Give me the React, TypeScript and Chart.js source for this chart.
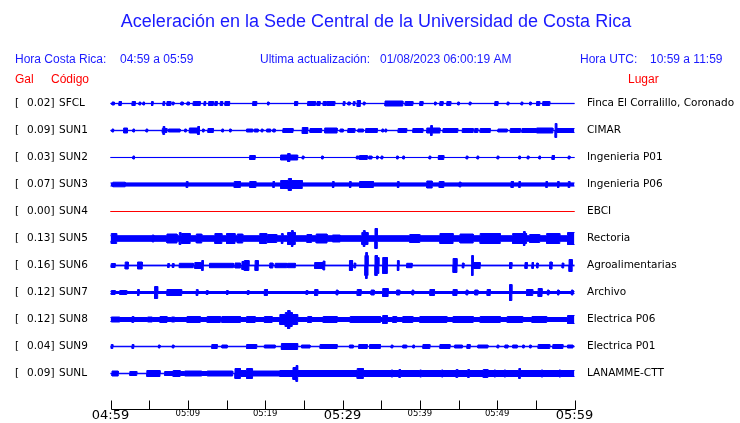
import { useEffect, useRef } from 'react';
import { Chart, registerables } from 'chart.js';

Chart.register(...registerables);

// ---------- data ----------
const titleText = 'Aceleración en la Sede Central de la Universidad de Costa Rica';
const hourCR = '04:59 a 05:59';
const lastUpdate = '01/08/2023 06:00:19 AM';
const hourUTC = '10:59 a 11:59';

const stations = ['SFCL', 'SUN1', 'SUN2', 'SUN3', 'SUN4', 'SUN5', 'SUN6', 'SUN7', 'SUN8', 'SUN9', 'SUNL'];
const peakGal = ['0.02', '0.09', '0.03', '0.07', '0.00', '0.13', '0.16', '0.12', '0.12', '0.04', '0.09'];
const places = [
  'Finca El Corralillo, Coronado', 'CIMAR', 'Ingenieria P01', 'Ingenieria P06', 'EBCI', 'Rectoria',
  'Agroalimentarias', 'Archivo', 'Electrica P06', 'Electrica P01', 'LANAMME-CTT',
];
// background (noise) half amplitude of each trace
const baseAmp = [0.15, 0.2, 0.05, 1.6, 0, 2.8, 0.4, 1.0, 2.0, 0.25, 0.25];

// bursts: [start minute, end minute, half amplitude]
type Ev = [number, number, number];
const sfclEvents: Ev[] = [
  [0.2, 0.5, 1.5], [1.1, 1.4, 2], [2.8, 3.2, 2], [3.7, 3.9, 1.5], [4.2, 4.4, 1.5], [5.3, 5.5, 2],
  [6.8, 7.0, 2], [7.3, 7.8, 2], [8.0, 8.2, 1.5], [9.1, 9.4, 1.5], [9.9, 10.2, 1.5], [10.7, 11.6, 2],
  [12.1, 12.3, 2], [12.7, 13.3, 2], [13.5, 13.8, 2], [14.2, 14.5, 2], [14.8, 15.4, 2], [18.4, 18.9, 2],
  [20.3, 20.5, 1.5], [23.8, 24.2, 2], [25.5, 26.5, 2], [26.7, 27.1, 2], [27.5, 27.9, 2], [28.0, 29.0, 2],
  [30.1, 30.3, 2], [30.7, 31.0, 1.5], [31.4, 31.6, 2], [31.9, 32.3, 3], [32.7, 32.9, 1.5],
  [35.5, 37.8, 2.5], [38.1, 39.1, 2], [40.0, 40.4, 2], [41.9, 42.1, 1.5], [42.6, 43.0, 2],
  [43.5, 44.0, 2], [44.9, 45.1, 1.5], [46.4, 46.6, 1.5], [49.7, 50.1, 2], [51.3, 51.5, 1.5],
  [53.1, 53.3, 1.5], [54.2, 54.4, 1.5], [55.1, 55.5, 2], [55.9, 56.8, 2],
];
const sun1Events: Ev[] = [
  [0.2, 0.4, 1.5], [1.7, 2.2, 2.5], [2.9, 3.1, 1.5], [4.6, 4.8, 1.5], [6.7, 7.3, 2], [6.8, 7.0, 4],
  [7.5, 9.0, 1.5], [9.6, 9.8, 1.5], [10.2, 11.2, 2.5], [11.3, 11.5, 4], [11.9, 12.1, 1.5],
  [12.6, 13.3, 2], [14.4, 14.6, 1.5], [15.4, 15.6, 1.5], [17.6, 18.4, 1.5], [18.6, 19.1, 1.5],
  [19.5, 19.7, 1.5], [20.2, 20.7, 1.5], [21.0, 21.3, 1.5], [22.3, 23.6, 2], [24.8, 25.5, 3],
  [25.8, 27.3, 2], [27.7, 29.3, 2.5], [29.7, 30.1, 1.5], [30.7, 31.6, 2], [32.0, 32.7, 1.5],
  [33.0, 34.5, 2], [35.1, 35.3, 1.5], [35.5, 35.7, 1.5], [37.2, 38.3, 2], [39.1, 40.4, 2],
  [40.9, 42.6, 2.5], [41.4, 41.6, 5], [43.0, 44.9, 2], [45.5, 46.9, 2], [47.1, 47.5, 2],
  [47.8, 49.1, 2], [50.1, 51.3, 1.5], [51.7, 53.0, 2], [53.2, 55.1, 2], [55.1, 57.2, 2.5],
  [57.5, 57.7, 7], [57.7, 60, 2],
];
const sun2Events: Ev[] = [
  [2.9, 3.1, 1.5], [18.0, 18.7, 2], [22.0, 24.2, 2.5], [22.9, 23.2, 4], [24.8, 25.0, 1.5],
  [27.3, 27.5, 1.5], [31.8, 32.1, 1.5], [32.2, 33.2, 2], [33.4, 33.8, 1.5], [34.4, 34.6, 1.5],
  [35.0, 35.2, 1.5], [37.0, 37.2, 1.5], [37.8, 38.0, 1.5], [41.2, 41.4, 1.5], [42.4, 43.1, 2],
  [46.0, 46.2, 1.5], [47.4, 47.6, 1.5], [50.0, 50.2, 1.5], [52.8, 53.0, 1.5], [53.9, 54.1, 1.5],
  [55.4, 55.6, 1.5], [57.1, 57.4, 2], [59.2, 59.4, 1.5],
];
const sun3Events: Ev[] = [
  [0.3, 1.9, 2.3], [9.8, 10.0, 3], [16.0, 16.8, 3], [18.0, 18.8, 3], [21.0, 21.2, 3], [22.0, 24.8, 4],
  [23.0, 23.4, 6], [28.7, 28.9, 3], [30.9, 31.1, 3], [32.2, 34.0, 3], [37.1, 37.3, 3],
  [40.9, 41.6, 3.5], [42.5, 43.1, 3], [45.1, 45.3, 2.5], [51.8, 52.1, 3], [52.8, 53.0, 3],
  [56.3, 56.5, 3], [57.8, 58.0, 3], [59.2, 59.4, 3],
];
const sun4Events: Ev[] = [];
const sun5Events: Ev[] = [
  [0.1, 0.8, 5], [5.4, 5.6, 3.5], [7.3, 8.6, 4.5], [8.9, 9.1, 6], [9.2, 10.3, 5], [11.1, 11.8, 4.5],
  [13.5, 14.4, 5], [15.0, 16.1, 5], [16.4, 17.1, 4.5], [19.3, 20.2, 5], [20.3, 21.5, 4],
  [22.1, 22.3, 5], [22.9, 23.9, 6], [23.4, 23.6, 8], [25.4, 26.0, 4], [26.6, 28.0, 4.5],
  [28.7, 29.7, 3.5], [32.5, 33.3, 6], [32.7, 32.9, 8], [34.2, 34.5, 10], [38.7, 40.0, 4],
  [42.6, 44.3, 5], [45.2, 46.9, 4.5], [47.8, 49.1, 5], [49.1, 50.4, 5], [52.0, 53.8, 5],
  [53.4, 53.6, 7], [54.2, 55.5, 4], [56.4, 58.1, 5], [59.1, 60, 6],
];
const sun6Events: Ev[] = [
  [0.1, 0.6, 2], [1.9, 2.3, 3.5], [3.5, 4.1, 3.5], [7.4, 7.6, 2], [8.0, 8.2, 2], [8.9, 10.7, 2.2],
  [10.9, 12.0, 3], [11.8, 12.0, 5], [12.8, 15.9, 2.2], [16.1, 16.8, 2.5], [17.0, 17.6, 4],
  [17.3, 17.9, 5], [18.7, 19.1, 5], [20.6, 21.0, 2.5], [21.3, 22.8, 2.2], [22.9, 23.9, 2.2],
  [26.4, 27.7, 3], [27.5, 27.7, 4.5], [30.9, 31.3, 5], [31.5, 31.7, 2.5], [32.9, 33.3, 10],
  [33.0, 33.2, 13], [34.2, 34.5, 10], [34.5, 34.7, 8], [35.2, 35.8, 8], [37.1, 37.3, 5],
  [38.3, 39.0, 2.2], [44.3, 44.8, 7], [45.5, 45.7, 2.5], [46.7, 46.9, 10], [46.9, 47.8, 3],
  [51.6, 51.9, 3], [53.6, 53.9, 3], [54.5, 54.7, 3], [55.1, 55.3, 2.5], [56.8, 57.1, 3.5],
  [58.4, 58.6, 2.5], [59.3, 59.7, 6],
];
const sun7Events: Ev[] = [
  [0.1, 0.6, 2], [1.2, 2.1, 2], [3.5, 3.7, 3], [5.7, 6.1, 6], [7.3, 9.2, 3], [11.1, 11.3, 3],
  [12.4, 12.6, 2], [15.0, 15.2, 2], [17.7, 17.9, 2], [19.9, 20.3, 3], [25.3, 25.5, 2],
  [26.4, 26.8, 3], [29.2, 29.4, 2.5], [31.9, 32.4, 3], [33.7, 34.1, 2.5], [35.2, 35.9, 4],
  [37.0, 37.4, 2.5], [39.0, 39.2, 2.5], [41.3, 41.9, 3], [44.3, 44.8, 3], [46.0, 46.2, 2.5],
  [47.1, 47.5, 2.5], [48.7, 49.1, 3], [51.6, 51.9, 8], [53.8, 54.6, 3], [55.3, 55.8, 4],
  [56.5, 56.7, 2.5], [57.8, 58.0, 2.5], [59.6, 59.8, 2.5],
];
const sun8Events: Ev[] = [
  [0.1, 1.2, 2.5], [2.8, 3.0, 3], [4.8, 5.4, 2.5], [6.4, 7.3, 3], [7.9, 8.3, 2.5], [9.9, 11.6, 3],
  [12.5, 14.2, 3], [14.4, 16.8, 3], [17.6, 18.7, 3], [19.9, 20.9, 3], [21.9, 24.2, 5],
  [22.6, 23.5, 7], [22.9, 23.2, 9], [25.5, 26.0, 3], [27.5, 29.3, 3], [31.0, 34.9, 3],
  [35.2, 35.8, 4], [36.5, 37.0, 3], [37.8, 39.1, 3], [40.0, 43.5, 3], [44.3, 46.9, 3],
  [47.8, 50.4, 3], [51.3, 53.3, 3], [54.5, 56.4, 3], [59.1, 60, 4],
];
const sun9Events: Ev[] = [
  [0.1, 0.3, 2], [2.8, 3.0, 2], [6.2, 6.4, 1.5], [8.0, 8.2, 1.5], [13.1, 13.8, 2], [14.4, 15.1, 1.5],
  [17.6, 18.9, 2], [19.9, 21.3, 1.5], [22.1, 24.2, 3], [24.7, 25.8, 1.5], [27.1, 29.3, 2],
  [30.9, 31.4, 1.5], [32.1, 33.2, 2], [33.5, 34.9, 2], [36.3, 36.5, 1.5], [37.8, 38.3, 1.5],
  [39.1, 39.3, 1.5], [40.4, 41.3, 2], [42.6, 43.9, 2], [44.5, 45.5, 1.5], [46.1, 46.5, 2],
  [47.5, 48.8, 1.5], [50.0, 50.2, 1.5], [51.0, 51.4, 1.5], [52.0, 52.6, 1.5], [53.3, 53.5, 1.5],
  [54.2, 54.4, 1.5], [55.3, 56.8, 2], [57.2, 58.5, 2], [59.1, 59.8, 1.5],
];
const sunlEvents: Ev[] = [
  [0.2, 1.0, 2.5], [2.5, 3.4, 2], [4.7, 6.4, 3], [7.0, 8.1, 2], [8.1, 9.0, 3], [9.0, 13.8, 2],
  [9.6, 11.8, 2.5], [12.5, 14.5, 2.5], [14.4, 15.8, 2.5], [16.1, 16.8, 5], [16.7, 18.4, 3],
  [17.6, 18.3, 5], [18.4, 19.3, 2.5], [19.3, 21.9, 2.5], [21.9, 25.4, 3], [23.6, 24.2, 6],
  [24.0, 24.2, 8], [25.4, 60, 3], [31.9, 32.7, 5], [36.3, 36.5, 3.5], [37.3, 37.5, 4],
  [40.0, 40.2, 3.5], [42.8, 43.0, 3.5], [44.7, 44.9, 4], [46.2, 46.4, 4], [48.2, 48.8, 4],
  [49.6, 49.8, 3.5], [50.9, 51.1, 3.5], [52.8, 53.0, 5], [55.7, 55.9, 3.5], [58.0, 58.2, 3.5],
];
const stationEvents: Ev[][] = [
  sfclEvents, sun1Events, sun2Events, sun3Events, sun4Events, sun5Events,
  sun6Events, sun7Events, sun8Events, sun9Events, sunlEvents,
];

// time axis (minutes after 04:59)
const tickMinutes = [0, 5, 10, 15, 20, 25, 30, 35, 40, 45, 50, 55, 60];
const majorTickMinutes = [0, 30, 60];
const majorTickLabels = ['04:59', '05:29', '05:59'];
const minorTickMinutes = [10, 20, 40, 50];
const minorTickLabels = ['05:09', '05:19', '05:39', '05:49'];

// ---------- helpers ----------
const ROW = 27;
const TRACE_BLUE = '#0000ff';
const TEXT_BLUE = '#1a1aff';
const RED = '#ff0000';

function envelope(events: Ev[], base: number): [number, number][] {
  const set = new Set<number>([0, 60]);
  events.forEach(([s, e]) => {
    set.add(Math.max(0, Math.min(60, s)));
    set.add(Math.max(0, Math.min(60, e)));
  });
  const b = Array.from(set).sort((a, c) => a - c);
  const pts: [number, number][] = [];
  let prev: number | null = null;
  for (let k = 0; k < b.length - 1; k++) {
    const mid = (b[k] + b[k + 1]) / 2;
    let a = base;
    for (const [s, e, h] of events) if (s <= mid && mid < e && h > a) a = h;
    if (prev === null) pts.push([b[k], a]);
    else if (a !== prev) {
      pts.push([b[k], prev]);
      pts.push([b[k], a]);
    }
    prev = a;
  }
  pts.push([60, prev ?? base]);
  return pts;
}

const overlay = {
  id: 'seismoOverlay',
  afterDraw(chart: any) {
    const ctx: CanvasRenderingContext2D = chart.ctx;
    const x = chart.scales.x;
    const y = chart.scales.y;
    ctx.save();
    // title
    ctx.fillStyle = TEXT_BLUE;
    ctx.textBaseline = 'middle';
    ctx.textAlign = 'center';
    ctx.font = '18px "Liberation Sans", Arial, sans-serif';
    ctx.fillText(titleText, 376, 22);
    // header line
    ctx.font = '12px "Liberation Sans", Arial, sans-serif';
    ctx.textAlign = 'left';
    ctx.fillText('Hora Costa Rica:', 15, 60);
    ctx.fillText(hourCR, 120, 60);
    ctx.fillText('Ultima actualización:', 260, 60);
    ctx.fillText(lastUpdate, 380, 60);
    ctx.fillText('Hora UTC:', 580, 60);
    ctx.fillText(hourUTC, 650, 60);
    ctx.fillStyle = RED;
    ctx.fillText('Gal', 15, 80);
    ctx.fillText('Código', 51, 80);
    ctx.fillText('Lugar', 628, 80);
    // station labels
    ctx.fillStyle = '#000';
    ctx.font = '10.5px "DejaVu Sans", sans-serif';
    stations.forEach((s, i) => {
      const py = y.getPixelForValue(-ROW * i);
      ctx.textAlign = 'left';
      ctx.fillText('[', 15, py);
      ctx.fillText(peakGal[i] + ']', 27, py);
      ctx.fillText(s, 59, py);
      ctx.fillText(places[i], 587, py);
    });
    // time axis
    const axisY = 409.5;
    ctx.strokeStyle = '#000';
    ctx.lineWidth = 1;
    ctx.beginPath();
    ctx.moveTo(Math.round(x.getPixelForValue(0)) + 0.5, axisY);
    ctx.lineTo(Math.round(x.getPixelForValue(60)) + 0.5, axisY);
    tickMinutes.forEach((m) => {
      const px = Math.round(x.getPixelForValue(m)) + 0.5;
      ctx.moveTo(px, axisY);
      ctx.lineTo(px, axisY - 9);
    });
    ctx.stroke();
    ctx.fillStyle = '#000';
    ctx.textAlign = 'center';
    ctx.textBaseline = 'top';
    ctx.font = '13px "DejaVu Sans", sans-serif';
    majorTickMinutes.forEach((m, i) => ctx.fillText(majorTickLabels[i], x.getPixelForValue(m), 409));
    ctx.font = '8.5px "DejaVu Sans", sans-serif';
    minorTickMinutes.forEach((m, i) => ctx.fillText(minorTickLabels[i], x.getPixelForValue(m), 410));
    ctx.restore();
  },
};

export default function App() {
  const ref = useRef<HTMLCanvasElement | null>(null);
  useEffect(() => {
    document.body.style.margin = '0';
    const canvas = ref.current;
    if (!canvas) return;
    const datasets: any[] = [];
    stations.forEach((_, i) => {
      const c = -ROW * i;
      const env = envelope(stationEvents[i], baseAmp[i]);
      const color = i === 4 ? RED : TRACE_BLUE;
      datasets.push({
        data: env.map(([t, a]) => ({ x: t, y: c + a })),
        borderColor: color,
        borderWidth: 1,
        pointRadius: 0,
        fill: false,
        clip: false,
      });
      datasets.push({
        data: env.map(([t, a]) => ({ x: t, y: c - a })),
        borderColor: color,
        backgroundColor: color,
        borderWidth: 1,
        pointRadius: 0,
        fill: '-1',
        clip: false,
      });
    });
    const chart = new Chart(canvas, {
      type: 'line',
      data: { datasets },
      options: {
        animation: false,
        responsive: false,
        events: [],
        layout: { padding: { left: 110.5, right: 165.5, top: 90, bottom: 36 } },
        scales: {
          x: { type: 'linear', min: 0, max: 60, display: false },
          y: { type: 'linear', min: -ROW * 10 - ROW / 2, max: ROW / 2, display: false },
        },
        plugins: { legend: { display: false }, tooltip: { enabled: false }, title: { display: false } },
        elements: { line: { tension: 0 } },
      },
      plugins: [overlay],
    });
    return () => chart.destroy();
  }, []);
  return (
    <div style={{ width: 740, height: 423, background: '#fff' }}>
      <canvas ref={ref} width={740} height={423} style={{ display: 'block' }} />
    </div>
  );
}
